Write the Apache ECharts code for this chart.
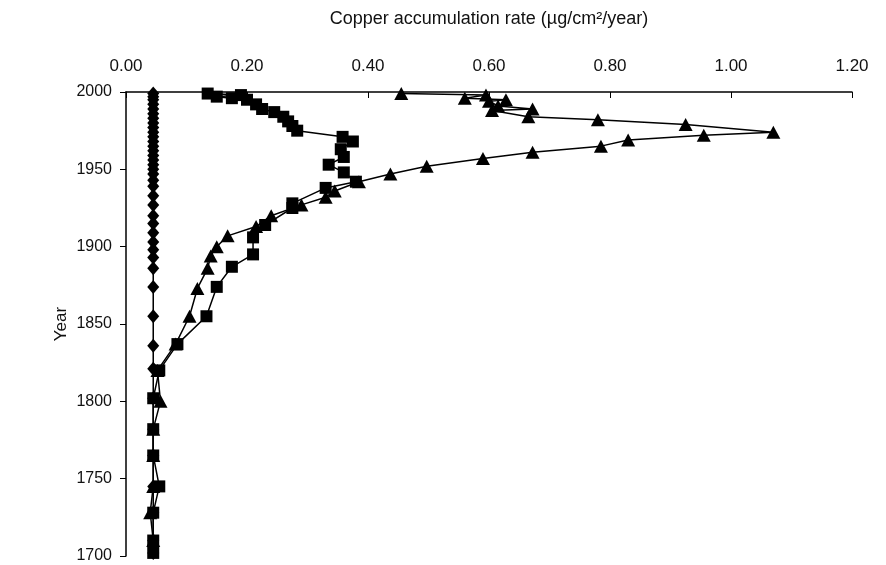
<!DOCTYPE html>
<html>
<head>
<meta charset="utf-8">
<script src="https://cdn.jsdelivr.net/npm/echarts@6/dist/echarts.min.js"></script>
<style>
html,body{margin:0;padding:0;background:#fff;}
#c{width:886px;height:565px;}
</style>
</head>
<body>
<div id="c"></div>
<script>
// Diamond series
const diamondYears = [1999,1997,1995,1992,1989,1986,1983,1980,1977,1974,1971,1968,1965,1962,1959,1956,1953,1950,1947,1943,1939,1933,1927,1920,1915,1909,1903,1898,1893,1886,1874,1855,1836,1821,1802,1782,1765,1745,1728,1710,1702];
const diamondValues = [0.045,0.045,0.045,0.045,0.045,0.045,0.045,0.045,0.045,0.045,0.045,0.045,0.045,0.045,0.045,0.045,0.045,0.045,0.045,0.045,0.045,0.045,0.045,0.045,0.045,0.045,0.045,0.045,0.045,0.045,0.045,0.045,0.045,0.045,0.045,0.045,0.045,0.045,0.045,0.045,0.045];

// Square series
const squareYears = [1999,1998,1997,1996,1995,1992,1989,1987,1984,1981,1978,1975,1971,1968,1963,1958,1953,1948,1942,1938,1928,1925,1914,1906,1895,1887,1874,1855,1837,1820,1802,1782,1765,1745,1728,1710,1702];
const squareValues = [0.135,0.19,0.15,0.175,0.20,0.215,0.225,0.245,0.26,0.268,0.275,0.283,0.358,0.375,0.355,0.36,0.335,0.36,0.38,0.33,0.275,0.275,0.23,0.21,0.21,0.175,0.15,0.133,0.085,0.055,0.045,0.045,0.045,0.055,0.045,0.045,0.045];

// Triangle series
const triangleYears = [1999,1998,1996,1995,1994,1991,1989,1988,1984,1982,1979,1974,1972,1969,1965,1961,1957,1952,1947,1942,1936,1932,1927,1920,1913,1907,1900,1894,1886,1873,1855,1837,1820,1800,1782,1765,1745,1728,1710];
const triangleValues = [0.455,0.595,0.56,0.628,0.6,0.615,0.672,0.605,0.665,0.78,0.925,1.07,0.955,0.83,0.785,0.672,0.59,0.497,0.437,0.385,0.345,0.33,0.29,0.24,0.215,0.168,0.15,0.14,0.135,0.118,0.105,0.082,0.052,0.057,0.045,0.045,0.045,0.04,0.045];

// Axis ticks
const xTicks = [0,0.2,0.4,0.6,0.8,1.0,1.2];
const yTicks = [1700,1750,1800,1850,1900,1950,2000];

const pairs = (vals, yrs) => vals.map((v,i)=>[v, yrs[i]]);

const chart = echarts.init(document.getElementById('c'), null, {renderer:'canvas'});
const FONT = '"Liberation Sans", Arial, sans-serif';
const lineStyle = {color:'#000', width:1.5};
chart.setOption({
  animation:false,
  backgroundColor:'#fff',
  grid:{left:126, top:92, width:726, height:464},
  xAxis:{
    type:'value', position:'top',
    min:xTicks[0], max:xTicks[xTicks.length-1], interval:0.2,
    name:'Copper accumulation rate (µg/cm²/year)',
    nameLocation:'middle', nameGap:64, nameMoveOverlap:false,
    nameTextStyle:{fontFamily:FONT, fontSize:18, color:'#111'},
    axisLine:{show:true, lineStyle:{color:'#000', width:1.5}},
    axisTick:{show:true, inside:true, length:6, lineStyle:{color:'#000'}},
    axisLabel:{fontFamily:FONT, fontSize:17, color:'#111', margin:17, formatter:v=>v.toFixed(2)},
    splitLine:{show:false}
  },
  yAxis:{
    type:'value',
    min:yTicks[0], max:yTicks[yTicks.length-1], interval:50,
    name:'Year', nameLocation:'middle', nameGap:56, nameRotate:90, nameMoveOverlap:false,
    nameTextStyle:{fontFamily:FONT, fontSize:17, color:'#111'},
    axisLine:{show:true, lineStyle:{color:'#000', width:1.5}},
    axisTick:{show:true, inside:false, length:6, lineStyle:{color:'#000'}},
    axisLabel:{fontFamily:FONT, fontSize:16, color:'#111', margin:14, formatter:v=>String(v)},
    splitLine:{show:false}
  },
  series:[
    {type:'line', data:pairs(diamondValues, diamondYears), symbol:'diamond', symbolSize:[12,14],
     itemStyle:{color:'#000'}, lineStyle:lineStyle, z:3},
    {type:'line', data:pairs(squareValues, squareYears), symbol:'rect', symbolSize:12,
     itemStyle:{color:'#000'}, lineStyle:lineStyle, z:4},
    {type:'line', data:pairs(triangleValues, triangleYears), symbol:'triangle', symbolSize:[14,13],
     itemStyle:{color:'#000'}, lineStyle:lineStyle, z:5}
  ]
});
</script>
</body>
</html>
